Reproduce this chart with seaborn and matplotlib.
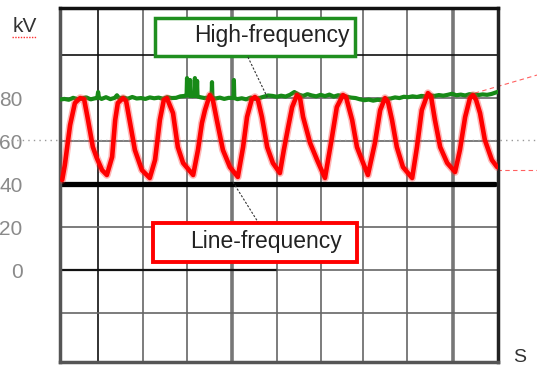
import numpy as np
import pandas as pd
import seaborn as sns
import matplotlib.pyplot as plt
from matplotlib.patches import Rectangle

# Time axis in grid divisions, voltage in kV
x_grid = [0.87, 1.89, 2.90, 3.93, 4.95, 5.96, 6.92, 7.92, 8.97]
y_grid = [100, 80, 60, 40, 20, 0, -20]
y_ticks = [80, 60, 40, 20, 0]
y_tick_labels = ["80", "60", "40", "20", "0"]

# High-frequency generator output (green)
green_t = [0.0, 0.1, 0.2, 0.3, 0.4, 0.5, 0.6, 0.7, 0.8, 0.85, 0.87, 0.89, 0.95,
           1.05, 1.15, 1.25, 1.3, 1.35, 1.45, 1.55, 1.65, 1.75, 1.85, 1.95,
           2.05, 2.15, 2.25, 2.35, 2.45, 2.55, 2.65, 2.75, 2.85, 2.89, 2.90, 2.91,
           2.96, 2.97, 2.98, 3.03, 3.07, 3.08, 3.09, 3.12, 3.13, 3.14, 3.2, 3.3,
           3.4, 3.46, 3.47, 3.48, 3.55, 3.65, 3.75, 3.85, 3.96, 3.97, 3.98,
           4.05, 4.15, 4.25, 4.35, 4.45, 4.55, 4.65, 4.75, 4.85, 4.95,
           5.05, 5.15, 5.25, 5.35, 5.45, 5.55, 5.65, 5.75, 5.85, 5.95,
           6.05, 6.15, 6.25, 6.35, 6.45, 6.55, 6.65, 6.75, 6.85, 6.95,
           7.05, 7.15, 7.25, 7.35, 7.45, 7.55, 7.65, 7.75, 7.85, 7.95,
           8.05, 8.15, 8.25, 8.35, 8.45, 8.55, 8.65, 8.75, 8.85, 8.95,
           9.05, 9.15, 9.25, 9.35, 9.45, 9.55, 9.65, 9.75, 9.85, 9.95, 10.0]
green_kv = [79.3, 79.6, 79.2, 80.1, 79.5, 79.8, 80.3, 79.4, 79.9, 80.0, 82.8, 80.2, 79.6,
            80.4, 79.5, 80.1, 81.3, 79.9, 80.2, 79.7, 80.5, 79.8, 80.0, 79.6,
            80.3, 79.9, 80.2, 79.7, 80.4, 80.0, 80.1, 80.8, 81.0, 81.2, 89.3, 81.4,
            81.0, 88.4, 81.1, 80.9, 81.2, 89.3, 81.0, 81.1, 88.0, 80.8, 80.4, 80.0,
            80.3, 80.1, 87.4, 80.2, 79.8, 80.2, 79.6, 80.1, 80.0, 88.4, 80.0,
            79.5, 79.9, 79.4, 80.2, 79.6, 80.0, 80.6, 81.2, 81.0, 80.6,
            81.1, 80.7, 81.5, 82.8, 81.6, 81.0, 81.8, 81.2, 80.8, 81.5,
            80.9, 81.6, 80.7, 81.3, 81.0, 80.6, 80.2, 80.0, 79.4, 79.0,
            79.3, 78.8, 79.2, 79.0, 79.6, 79.8, 80.3, 80.0, 80.6, 80.4,
            80.8, 80.5, 81.0, 80.8, 81.2, 81.0, 81.4, 81.1, 81.5, 82.0,
            81.3, 81.6, 81.2, 81.8, 81.5, 81.4, 81.7, 81.5, 81.9, 82.6, 82.9]

# Line-frequency generator output (red)
red_t = [0.05, 0.11, 0.23, 0.34, 0.46, 0.55, 0.64, 0.75, 0.84, 0.96,
         1.07, 1.19, 1.26, 1.32, 1.44, 1.51, 1.60, 1.71, 1.87,
         2.05, 2.17, 2.28, 2.37, 2.44, 2.58, 2.69, 2.81,
         3.04, 3.15, 3.24, 3.31, 3.42, 3.49, 3.58, 3.72, 3.88,
         4.06, 4.18, 4.27, 4.38, 4.45, 4.52, 4.61, 4.73, 4.86,
         5.02, 5.11, 5.21, 5.30, 5.41, 5.48, 5.55, 5.71, 5.87,
         6.05, 6.21, 6.32, 6.46, 6.53, 6.67, 6.78, 6.92,
         7.03, 7.19, 7.31, 7.42, 7.49, 7.58, 7.69, 7.83,
         8.04, 8.15, 8.26, 8.40, 8.47, 8.56, 8.68, 8.84,
         9.02, 9.13, 9.25, 9.36, 9.43, 9.50, 9.59, 9.70, 9.86, 9.98]
red_kv = [41.9, 48.8, 67.4, 77.7, 80.0, 79.5, 69.8, 57.2, 52.1, 46.5,
          44.2, 52.6, 69.8, 77.7, 80.0, 78.6, 68.4, 55.8, 46.5,
          42.8, 51.2, 69.8, 79.1, 80.0, 73.0, 57.2, 49.8,
          44.2, 55.8, 68.4, 74.4, 81.4, 79.1, 69.8, 55.8, 47.9,
          43.3, 57.2, 71.2, 79.5, 80.5, 79.1, 71.2, 57.2, 49.8,
          45.1, 55.8, 66.5, 75.8, 81.4, 80.0, 71.2, 59.1, 51.2,
          42.8, 61.9, 75.8, 81.4, 80.5, 69.8, 57.2, 49.8,
          44.2, 59.1, 74.4, 80.0, 78.1, 69.8, 57.2, 47.9,
          42.8, 57.2, 74.4, 82.3, 80.9, 69.8, 57.2, 49.8,
          45.6, 55.8, 71.2, 80.0, 81.4, 79.1, 73.0, 60.5, 51.2, 47.9]

df_green = pd.DataFrame({"t": green_t, "kV": green_kv})
df_red = pd.DataFrame({"t": red_t, "kV": red_kv})

sns.set_style("white")
plt.rcParams['font.family'] = ['Liberation Sans', 'DejaVu Sans']

fig = plt.figure(figsize=(5.37, 3.70), dpi=100)
ax = fig.add_axes([60 / 537, 8 / 370, 438 / 537, 354 / 370])
ax.set_xlim(0, 10)
ax.set_ylim(-42.8, 121.9)

# Scope grid
for i, xv in enumerate(x_grid):
    if i == 0:
        ax.axvline(xv, color="#222222", lw=1.3, zorder=1)
    elif xv in (3.93, 8.97):
        ax.axvline(xv, color="#777777", lw=2.6, zorder=1)
    else:
        ax.axvline(xv, color="#666666", lw=1.2, zorder=1)

for yv in y_grid:
    if yv == 100:
        ax.axhline(yv, color="#111111", lw=1.2, zorder=1)
    elif yv == 40:
        ax.axhline(yv, xmin=0, xmax=0.993, color="black", lw=3.8, zorder=1)
    elif yv == 0:
        ax.axhline(yv, xmin=0, xmax=0.495, color="#111111", lw=1.6, zorder=1)
        ax.axhline(yv, xmin=0.495, xmax=1, color="#666666", lw=1.2, zorder=1)
    else:
        ax.axhline(yv, color="#666666", lw=1.2, zorder=1)

# dotted reference at 60 kV running across the whole figure
ax.plot([-0.137 * 10, 1.089 * 10], [60.3, 60.3], ls=(0, (1, 3)), color="#999999",
        lw=1.0, clip_on=False, zorder=1)

# Traces
sns.lineplot(data=df_green, x="t", y="kV", ax=ax, color="#178a17", lw=3.0,
             sort=False, estimator=None, zorder=3)
sns.lineplot(data=df_red, x="t", y="kV", ax=ax, color="#ff3030", lw=5.5, alpha=0.35,
             sort=False, estimator=None, zorder=4, solid_joinstyle="round")
sns.lineplot(data=df_red, x="t", y="kV", ax=ax, color="#ff0000", lw=3.3,
             sort=False, estimator=None, zorder=5, solid_joinstyle="round")

# thin red dashed continuations outside the frame
ax.plot([9.47, 10.89], [82.3, 90.7], ls=(0, (4, 3)), color="#ff6060", lw=0.8,
        clip_on=False, zorder=2)
ax.plot([9.98, 10.89], [46.5, 46.5], ls=(0, (4, 3)), color="#ff6060", lw=0.8,
        clip_on=False, zorder=2)

# Labels boxes
ax.add_patch(Rectangle((2.17, 99.5), 4.57, 17.7, facecolor="white",
                       edgecolor="#1f8f1f", lw=2.5, zorder=6))
ax.text(4.84, 109.0, "High-frequency", ha="center", va="center", fontsize=16.5,
        color="#222222", zorder=7)
ax.plot([4.29, 4.73], [99.1, 80.5], ls=(0, (2, 1.5)), color="#333333", lw=0.8, zorder=6)

ax.add_patch(Rectangle((2.12, 3.7), 4.66, 18.2, facecolor="white",
                       edgecolor="#ff0000", lw=2.8, zorder=6))
ax.text(4.70, 13.2, "Line-frequency", ha="center", va="center", fontsize=16.5,
        color="#222222", zorder=7)
ax.plot([3.95, 4.52], [40.9, 22.3], ls=(0, (2, 1.5)), color="#333333", lw=0.8, zorder=6)

# Axis ticks / labels
ax.set_xticks([])
ax.set_yticks(y_ticks)
ax.set_yticklabels(y_tick_labels, fontsize=15, color="#8a8a8a")
ax.tick_params(axis="y", length=0, pad=27)
ax.set_xlabel("")
ax.set_ylabel("")

ax.text(-0.80, 113.5, "kV", ha="center", va="center", fontsize=15, color="#333333")
ax.plot([-1.10, -0.52], [108.2, 108.2], ls=(0, (1, 1)), color="#ff3030", lw=1.0,
        clip_on=False)
ax.text(10.5, -40.5, "S", ha="center", va="center", fontsize=14, color="#333333",
        clip_on=False)

# Frame
for side, sp in ax.spines.items():
    sp.set_visible(True)
    sp.set_linewidth(2.5)
    sp.set_color("#555555")
ax.spines["top"].set_color("#111111")
ax.spines["right"].set_color("#222222")

plt.savefig("out.png", dpi=100)
plt.close()
